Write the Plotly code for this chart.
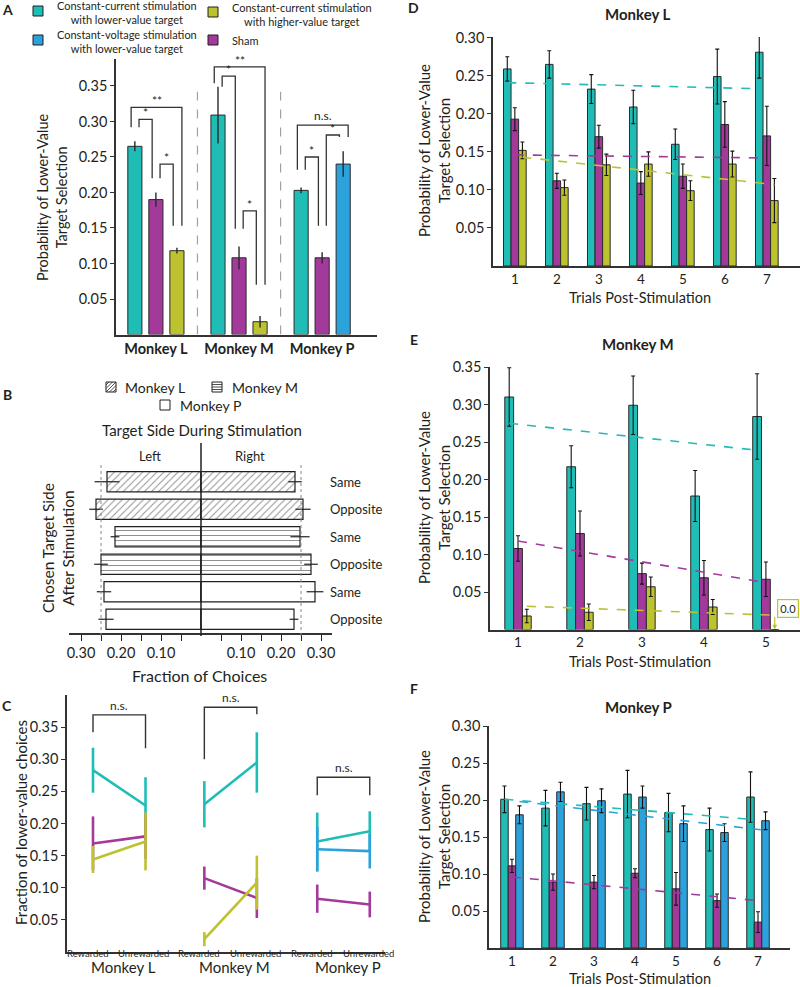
import numpy as np
import plotly.graph_objects as go

W, H = 800, 987
FONT = 'Lato'
INK = '#231F20'
CYAN = '#1FBDB6'
MAGENTA = '#A2399B'
OLIVE = '#BDC22F'
BLUE = '#2BA2DC'
EDGE = '#2A2A2A'
SEP = '#A0A0A0'

# ---------------- Panel A: overall lower-value selection ----------------
a_monkeys = ['Monkey L', 'Monkey M', 'Monkey P']
a_cc_lower = [0.265, 0.309, 0.203]
a_cc_lower_err = [0.007, 0.040, 0.004]
a_sham = [0.190, 0.108, 0.108]
a_sham_err = [0.010, 0.016, 0.008]
a_cc_higher = [0.118, 0.018]          # monkeys L and M
a_cc_higher_err = [0.004, 0.008]
a_cv_lower = [0.240]                  # monkey P
a_cv_lower_err = [0.018]
# (monkey, left bar, right bar, top, left leg end, right leg end, label)
a_brackets = [
    (0, -1, 1, 0.320, 0.292, 0.153, '**'),
    (0, -1, 0, 0.303, 0.292, 0.220, '*'),
    (0, 0, 1, 0.240, 0.220, 0.153, '*'),
    (1, -1, 1, 0.377, 0.354, 0.070, '**'),
    (1, -1, 0, 0.364, 0.349, 0.149, '*'),
    (1, 0, 1, 0.174, 0.149, 0.070, '*'),
    (2, -1, 1, 0.295, 0.232, 0.278, 'n.s.'),
    (2, 0, 1, 0.281, 0.153, 0.278, '*'),
    (2, -1, 0, 0.250, 0.232, 0.153, '*'),
]

# ---------------- Panel B: side of chosen target ----------------
b_monkey = ['Monkey L', 'Monkey L', 'Monkey M', 'Monkey M', 'Monkey P', 'Monkey P']
b_rows = ['Same', 'Opposite', 'Same', 'Opposite', 'Same', 'Opposite']
b_left = [0.235, 0.2625, 0.215, 0.250, 0.2425, 0.2375]
b_left_err = [0.031, 0.017, 0.011, 0.017, 0.018, 0.019]
b_right = [0.235, 0.255, 0.2475, 0.275, 0.285, 0.2325]
b_right_err = [0.017, 0.019, 0.024, 0.017, 0.021, 0.011]
b_ticks = [-0.30, -0.25, -0.20, -0.15, -0.10, -0.05, 0.05, 0.10, 0.15, 0.20, 0.25, 0.30]
b_chance = 0.25

# ---------------- Panel C: rewarded vs unrewarded ----------------
c_conditions = ['Rewarded', 'Unrewarded']
c_cc_lower = [[0.283, 0.228], [0.230, 0.295], [0.172, 0.188]]
c_cc_lower_err = [[0.035, 0.044], [0.036, 0.047], [0.045, 0.031]]
c_sham = [[0.169, 0.180], [0.115, 0.084], [0.083, 0.074]]
c_sham_err = [[0.042, 0.035], [0.018, 0.031], [0.022, 0.020]]
c_cc_higher = [[0.144, 0.172], [0.020, 0.108]]     # monkeys L and M
c_cc_higher_err = [[0.021, 0.045], [0.011, 0.042]]
c_cv_lower = [[0.160, 0.157]]                      # monkey P
c_cv_lower_err = [[0.035, 0.027]]
# (top, left leg end, right leg end) per monkey
c_brackets = [(0.369, 0.342, 0.317), (0.381, 0.300, 0.370), (0.272, 0.244, 0.244)]

# ---------------- Panels D-F: trials post-stimulation ----------------
d_trials = [1, 2, 3, 4, 5, 6, 7]
d_cc_lower = [0.259, 0.265, 0.2325, 0.209, 0.160, 0.249, 0.281]
d_cc_lower_err = [0.016, 0.018, 0.019, 0.022, 0.020, 0.036, 0.034]
d_sham = [0.193, 0.112, 0.170, 0.109, 0.118, 0.186, 0.171]
d_sham_err = [0.015, 0.010, 0.015, 0.015, 0.016, 0.030, 0.039]
d_cc_higher = [0.152, 0.103, 0.133, 0.134, 0.099, 0.134, 0.086]
d_cc_higher_err = [0.011, 0.010, 0.014, 0.016, 0.013, 0.017, 0.029]
d_trend_cc_lower = [0.241, 0.233]
d_trend_sham = [0.146, 0.142]
d_trend_cc_higher = [0.143, 0.107]

e_trials = [1, 2, 3, 4, 5]
e_cc_lower = [0.310, 0.217, 0.299, 0.178, 0.284]
e_cc_lower_err = [0.039, 0.028, 0.039, 0.034, 0.057]
e_sham = [0.108, 0.128, 0.0745, 0.069, 0.067]
e_sham_err = [0.017, 0.030, 0.014, 0.023, 0.023]
e_cc_higher = [0.018, 0.023, 0.057, 0.030, 0.0]
e_cc_higher_err = [0.009, 0.011, 0.013, 0.010, 0.0]
e_trend_cc_lower = [0.275, 0.239]
e_trend_sham = [0.118, 0.0625]
e_trend_cc_higher = [0.031, 0.019]

f_trials = [1, 2, 3, 4, 5, 6, 7]
f_cc_lower = [0.201, 0.189, 0.195, 0.208, 0.183, 0.160, 0.204]
f_cc_lower_err = [0.018, 0.024, 0.022, 0.032, 0.026, 0.029, 0.034]
f_sham = [0.111, 0.089, 0.089, 0.101, 0.080, 0.064, 0.035]
f_sham_err = [0.009, 0.011, 0.009, 0.006, 0.022, 0.009, 0.014]
f_cv_lower = [0.180, 0.211, 0.199, 0.204, 0.168, 0.156, 0.172]
f_cv_lower_err = [0.012, 0.013, 0.016, 0.015, 0.024, 0.012, 0.012]
f_trend_cc_lower = [0.201, 0.174]
f_trend_sham = [0.096, 0.064]
f_trend_cv_lower = [0.198, 0.159]


def px(x):
    return x / W


def py(y):
    return 1 - y / H


shapes = []
annotations = []


def text(x, y, s, size=14, bold=False, anchor='center', angle=0, color=INK):
    annotations.append(dict(
        x=px(x), y=py(y), xref='paper', yref='paper',
        text=f'<b>{s}</b>' if bold else s, showarrow=False,
        xanchor=anchor, yanchor='middle', textangle=angle,
        font=dict(family=FONT, size=size, color=color)))


def box(x0, y0, x1, y1, color):
    shapes.append(dict(type='rect', xref='paper', yref='paper',
                       x0=px(x0), x1=px(x1), y0=py(y1), y1=py(y0),
                       fillcolor=color, line=dict(color=INK, width=1)))


def to_paper(v, dom, rng):
    return dom[0] + (v - rng[0]) / (rng[1] - rng[0]) * (dom[1] - dom[0])


fig = go.Figure()

# ---------------- Panel A ----------------
A_SLOT, A_W = 0.253, 0.17
ga = np.arange(3)
err = dict(type='data', color=EDGE, thickness=1.4, width=0)
bar_line = dict(color=EDGE, width=1)
for xs, ys, es, col in [(ga - A_SLOT, a_cc_lower, a_cc_lower_err, CYAN),
                        (ga, a_sham, a_sham_err, MAGENTA),
                        (ga[:2] + A_SLOT, a_cc_higher, a_cc_higher_err, OLIVE),
                        (ga[2:] + A_SLOT, a_cv_lower, a_cv_lower_err, BLUE)]:
    fig.add_trace(go.Bar(x=xs, y=ys, width=A_W, marker=dict(color=col, line=bar_line),
                         error_y=dict(err, array=es), xaxis='x', yaxis='y', showlegend=False))

for g, s0, s1, top, e0, e1, lab in a_brackets:
    outer = (s1 - s0) == 2
    x0 = g + s0 * A_SLOT + (-0.045 if outer else 0.05)
    x1 = g + s1 * A_SLOT + (0.06 if outer else -0.045)
    shapes.append(dict(type='path', xref='x', yref='y',
                       path=f'M {x0},{e0} L {x0},{top} L {x1},{top} L {x1},{e1}',
                       line=dict(color='#333333', width=1.3)))
    annotations.append(dict(x=(x0 + x1) / 2, y=top, xref='x', yref='y', text=lab,
                            showarrow=False, yanchor='bottom',
                            yshift=-3 if '*' in lab else 0,
                            font=dict(family=FONT, size=12, color=INK)))

for xs in [0.5, 1.5]:
    shapes.append(dict(type='line', xref='x', yref='y', x0=xs, x1=xs, y0=0, y1=0.342,
                       line=dict(color=SEP, width=1.2, dash='dash')))

# legend of conditions
box(33, 6, 43, 16, CYAN)
box(33, 35, 43, 45, BLUE)
box(208, 7, 218, 17, OLIVE)
box(208, 35, 218, 45, MAGENTA)
text(55, 13, 'Constant-current stimulation<br>with lower-value target', 11, anchor='left')
text(55, 42, 'Constant-voltage stimulation<br>with lower-value target', 11, anchor='left')
text(230, 14, 'Constant-current stimulation<br>with higher-value target', 11, anchor='left')
text(230, 40, 'Sham', 11, anchor='left')
text(52, 197, 'Probability of Lower-Value<br>Target Selection', 14.5, angle=-90)
text(7, 9, 'A', 14, bold=True)

# ---------------- Panel B ----------------
rows = np.arange(len(b_rows))
hatch_of = {'Monkey L': '/', 'Monkey M': '-', 'Monkey P': ''}
b_hatch = [hatch_of[m] for m in b_monkey]
b_marker = dict(color='white', line=dict(color=INK, width=1.2),
                pattern=dict(shape=b_hatch, fgcolor='#222222', size=5, solidity=0.2))
b_err = dict(type='data', color=INK, thickness=1.2, width=0)
fig.add_trace(go.Bar(y=rows, x=-np.array(b_left), orientation='h', width=0.73, marker=b_marker,
                     error_x=dict(b_err, array=b_left_err), xaxis='x2', yaxis='y2', showlegend=False))
fig.add_trace(go.Bar(y=rows, x=b_right, orientation='h', width=0.73, marker=b_marker,
                     error_x=dict(b_err, array=b_right_err), xaxis='x2', yaxis='y2', showlegend=False))

B_XDOM, B_XRNG = [px(69), px(332)], [-0.33, 0.3275]
B_YDOM = [py(633), py(468)]
xc = to_paper(0, B_XDOM, B_XRNG)
shapes.append(dict(type='line', xref='paper', yref='paper', x0=xc, x1=xc, y0=py(636), y1=py(443),
                   line=dict(color=INK, width=1.5)))
for s in [-1, 1]:
    xd = to_paper(s * b_chance, B_XDOM, B_XRNG)
    shapes.append(dict(type='line', xref='paper', yref='paper', x0=xd, x1=xd, y0=py(636), y1=py(465),
                       line=dict(color='#888888', width=1, dash='dot')))
for r, lab in zip(rows, b_rows):
    annotations.append(dict(x=px(328), y=r, xref='paper', yref='y2', text=lab, showarrow=False,
                            xanchor='left', font=dict(family=FONT, size=13, color=INK)))


# hatched legend swatches
def swatch(x0, y0, s, kind):
    box(x0, y0, x0 + s, y0 + s, 'white')
    if kind == '/':
        for c in np.arange(3, 2 * s, 3.5):
            u0, u1 = max(0, c - s), min(c, s)
            shapes.append(dict(type='line', xref='paper', yref='paper',
                               x0=px(x0 + u0), y0=py(y0 + c - u0), x1=px(x0 + u1), y1=py(y0 + c - u1),
                               line=dict(color=INK, width=0.8)))
    elif kind == '-':
        for v in np.arange(2.5, s, 2.5):
            shapes.append(dict(type='line', xref='paper', yref='paper',
                               x0=px(x0), y0=py(y0 + v), x1=px(x0 + s), y1=py(y0 + v),
                               line=dict(color=INK, width=0.8)))


swatch(106, 382, 10, '/')
swatch(212, 382, 10, '-')
swatch(160, 400, 10, '')
text(123, 387, 'Monkey L', 14, anchor='left')
text(230, 387, 'Monkey M', 14, anchor='left')
text(178, 405, 'Monkey P', 14, anchor='left')
text(202, 430, 'Target Side During Stimulation', 15)
text(150, 456, 'Left', 13)
text(250, 456, 'Right', 13)
text(58, 548, 'Chosen Target Side<br>After Stimulation', 15.5, angle=-90)
text(199, 675, 'Fraction of Choices', 16)
text(7, 394, 'B', 14, bold=True)

# ---------------- Panel C ----------------
C_GROUP = [0, 2.12, 4.27]
C_LABEL_SHIFT = [-0.1, -0.03]
c_series = [
    (c_cc_lower, c_cc_lower_err, CYAN, [0, 1, 2]),
    (c_sham, c_sham_err, MAGENTA, [0, 1, 2]),
    (c_cc_higher, c_cc_higher_err, OLIVE, [0, 1]),
    (c_cv_lower, c_cv_lower_err, BLUE, [2]),
]
for vals, errs, col, monk in c_series:
    for v, e, m in zip(vals, errs, monk):
        xs = [C_GROUP[m], C_GROUP[m] + 1]
        fig.add_trace(go.Scatter(x=xs, y=v, mode='lines', line=dict(color=col, width=2.6),
                                 error_y=dict(type='data', array=e, color=col, thickness=2.6, width=0),
                                 xaxis='x3', yaxis='y3', showlegend=False))
for m, (top, e0, e1) in enumerate(c_brackets):
    x0, x1 = C_GROUP[m], C_GROUP[m] + 1
    shapes.append(dict(type='path', xref='x3', yref='y3',
                       path=f'M {x0},{e0} L {x0},{top} L {x1},{top} L {x1},{e1}',
                       line=dict(color='#333333', width=1.4)))
    annotations.append(dict(x=(x0 + x1) / 2, y=top, xref='x3', yref='y3', text='n.s.',
                            showarrow=False, yanchor='bottom',
                            font=dict(family=FONT, size=12, color=INK)))
    annotations.append(dict(x=(x0 + x1) / 2 + 0.08, y=py(978), xref='x3', yref='paper',
                            text=a_monkeys[m], showarrow=False,
                            font=dict(family=FONT, size=15, color=INK)))
    for k, cond in enumerate(c_conditions):
        annotations.append(dict(x=x0 + k + C_LABEL_SHIFT[k], y=py(961), xref='x3', yref='paper',
                                text=cond, showarrow=False,
                                font=dict(family=FONT, size=9.5, color=INK)))
text(21, 823, 'Fraction of lower-value choices', 15, angle=-90)
text(7, 705, 'C', 14, bold=True)


# ---------------- Panels D-F ----------------
def trial_panel(xa, ya, trials, series, width):
    t = np.array(trials, dtype=float)
    for vals, errs, col, off in series:
        fig.add_trace(go.Bar(x=t + off, y=vals, width=width, marker=dict(color=col, line=bar_line),
                             error_y=dict(type='data', array=errs, color='#111111', thickness=1.1, width=2),
                             xaxis=xa, yaxis=ya, showlegend=False))


def trend(xa, ya, trials, ends, col, off):
    fig.add_trace(go.Scatter(x=[trials[0] + off, trials[-1] + off], y=ends, mode='lines',
                             line=dict(color=col, width=1.6, dash='dash'),
                             xaxis=xa, yaxis=ya, showlegend=False))


DW = 0.18
trial_panel('x4', 'y4', d_trials, [(d_cc_lower, d_cc_lower_err, CYAN, -DW),
                                   (d_sham, d_sham_err, MAGENTA, 0),
                                   (d_cc_higher, d_cc_higher_err, OLIVE, DW)], DW)
trend('x4', 'y4', d_trials, d_trend_cc_lower, CYAN, -DW)
trend('x4', 'y4', d_trials, d_trend_sham, MAGENTA, 0)
trend('x4', 'y4', d_trials, d_trend_cc_higher, OLIVE, DW)

EW = 0.142
trial_panel('x5', 'y5', e_trials, [(e_cc_lower, e_cc_lower_err, CYAN, -EW),
                                   (e_sham, e_sham_err, MAGENTA, 0),
                                   (e_cc_higher, e_cc_higher_err, OLIVE, EW)], EW)
trend('x5', 'y5', e_trials, e_trend_cc_lower, CYAN, -EW)
trend('x5', 'y5', e_trials, e_trend_sham, MAGENTA, 0)
trend('x5', 'y5', e_trials, e_trend_cc_higher, OLIVE, EW)
annotations.append(dict(x=e_trials[-1] + EW, y=e_cc_higher[-1], xref='x5', yref='y5', text='',
                        showarrow=True, ax=0, ay=-14, arrowhead=2, arrowsize=0.8, arrowwidth=1.2,
                        arrowcolor=OLIVE))
annotations.append(dict(x=e_trials[-1] + EW, y=e_cc_higher[-1], xref='x5', yref='y5',
                        text=f'{e_cc_higher[-1]:.1f}', showarrow=False, xshift=13, yshift=21,
                        bordercolor=OLIVE, borderwidth=1.2, borderpad=2, bgcolor='white',
                        font=dict(family=FONT, size=11, color=INK)))

FW = 0.183
trial_panel('x6', 'y6', f_trials, [(f_cc_lower, f_cc_lower_err, CYAN, -FW),
                                   (f_sham, f_sham_err, MAGENTA, 0),
                                   (f_cv_lower, f_cv_lower_err, BLUE, FW)], FW)
trend('x6', 'y6', f_trials, f_trend_cc_lower, CYAN, -FW)
trend('x6', 'y6', f_trials, f_trend_sham, MAGENTA, 0)
trend('x6', 'y6', f_trials, f_trend_cv_lower, BLUE, FW)

for letter, title, ly, ty, ycen, xt in [('D', 'Monkey L', 8, 14, 151, 297),
                                        ('E', 'Monkey M', 339, 344, 498, 661),
                                        ('F', 'Monkey P', 688, 707, 837, 978)]:
    text(414, ly, letter, 14, bold=True)
    text(638, ty, title, 15, bold=True)
    text(434, ycen, 'Probability of Lower-Value<br>Target Selection', 15, angle=-90)
    text(640, xt, 'Trials Post-Stimulation', 14.5)

# ---------------- axes ----------------
tick_font = dict(family=FONT, size=14.5, color=INK)
base_x = dict(showline=True, linecolor='#333333', linewidth=1.5, ticks='', showgrid=False,
              zeroline=False, tickfont=tick_font, automargin=False, tickangle=0)
base_y = dict(showline=True, linecolor='#333333', linewidth=1.5, ticks='outside', ticklen=4,
              tickcolor='#333333', showgrid=False, zeroline=False, tickfont=tick_font,
              tickformat='.2f', automargin=False)
trial_font = dict(family=FONT, size=13.5, color=INK)
ticks_a = [0.05, 0.10, 0.15, 0.20, 0.25, 0.30, 0.35]
ticks_d = [0.05, 0.10, 0.15, 0.20, 0.25, 0.30]

fig.update_layout(
    width=W, height=H, margin=dict(l=0, r=0, t=0, b=0, autoexpand=False),
    paper_bgcolor='white', plot_bgcolor='white', barmode='overlay',
    font=dict(family=FONT, color=INK), showlegend=False,
    xaxis=dict(base_x, domain=[px(116), px(377)], range=[-0.48, 2.66], anchor='y',
               tickvals=list(ga), ticktext=[f'<b>{m}</b>' for m in a_monkeys],
               tickfont=dict(family=FONT, size=14.5, color=INK)),
    yaxis=dict(base_y, domain=[py(334.5), py(59)], range=[0, 0.388], anchor='x', tickvals=ticks_a),
    xaxis2=dict(base_x, domain=B_XDOM, range=B_XRNG, anchor='y2', ticks='outside', ticklen=6,
                tickcolor=INK, tickvals=b_ticks,
                ticktext=[f'{abs(v):.2f}' if round(abs(v) * 100) % 10 == 0 else '' for v in b_ticks]),
    yaxis2=dict(domain=B_YDOM, range=[5.5, -0.5], anchor='x2', visible=False),
    xaxis3=dict(base_x, domain=[px(67), px(385)], range=[-0.495, 5.56], anchor='y3',
                showticklabels=False),
    yaxis3=dict(base_y, domain=[py(952), py(695)], range=[0, 0.40], anchor='x3', tickvals=ticks_a),
    xaxis4=dict(base_x, domain=[px(493), 1.0], range=[0.48, 7.79], anchor='y4', tickvals=d_trials,
                tickfont=trial_font),
    yaxis4=dict(base_y, domain=[py(266), py(37)], range=[0, 0.301], anchor='x4', tickvals=ticks_d),
    xaxis5=dict(base_x, domain=[px(490), 1.0], range=[0.548, 5.55], anchor='y5', tickvals=e_trials,
                tickfont=trial_font),
    yaxis5=dict(base_y, domain=[py(629.5), py(367)], range=[0, 0.35], anchor='x5', tickvals=ticks_a),
    xaxis6=dict(base_x, domain=[px(489), px(790)], range=[0.44, 7.78], anchor='y6', tickvals=f_trials,
                tickfont=trial_font),
    yaxis6=dict(base_y, domain=[py(948), py(726)], range=[0, 0.30], anchor='x6', tickvals=ticks_d),
    shapes=shapes, annotations=annotations,
)

# the page's default body margin would shift the figure by 8px
fig.write_html("out.html", config={'displayModeBar': False},
               post_script="document.body.style.margin='0';")
